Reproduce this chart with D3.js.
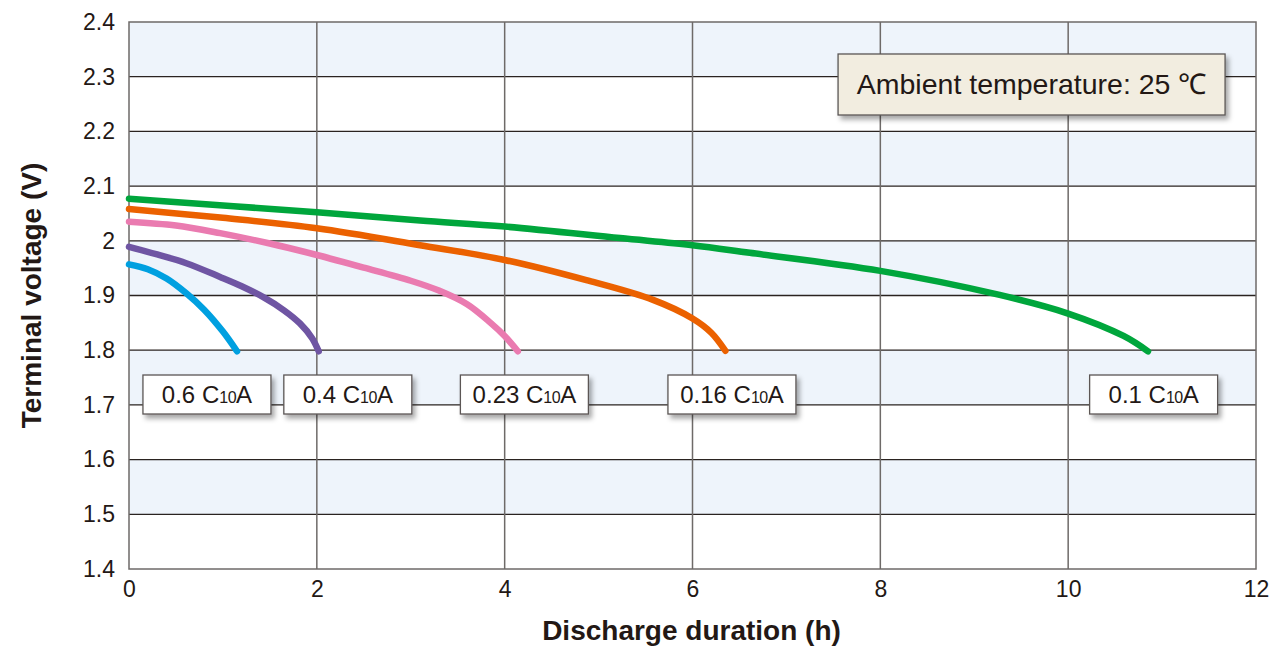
<!DOCTYPE html>
<html><head><meta charset="utf-8">
<script src="https://cdn.jsdelivr.net/npm/d3@7"></script>
<style>body{margin:0;background:#fff;} svg{display:block;font-family:"Liberation Sans",Arial,sans-serif;}</style>
</head><body>
<svg id="c" width="1271" height="648"></svg>
<script>
const xTicks = [0,2,4,6,8,10,12];
const yTicks = [1.4,1.5,1.6,1.7,1.8,1.9,2.0,2.1,2.2,2.3,2.4];
const yTickLabels = ["1.4","1.5","1.6","1.7","1.8","1.9","2","2.1","2.2","2.3","2.4"];
const seriesNames = ["0.6","0.4","0.23","0.16","0.1"];
const seriesColors = ["#00a0e0","#6f55a3","#ea7bb0","#eb6100","#00a63c"];
const s06 = [[0,1.957],[0.2,1.948],[0.4,1.931],[0.61,1.904],[0.8,1.874],[1.0,1.834],[1.15,1.798]];
const s04 = [[0,1.989],[0.3,1.975],[0.61,1.959],[0.97,1.934],[1.2,1.917],[1.43,1.897],[1.65,1.873],[1.82,1.849],[1.95,1.822],[2.02,1.798]];
const s023 = [[0,2.035],[0.5,2.028],[0.97,2.014],[1.5,1.995],[2.0,1.974],[2.5,1.951],[3.0,1.927],[3.3,1.909],[3.6,1.884],[3.85,1.850],[4.0,1.826],[4.14,1.798]];
const s016 = [[0,2.058],[1.0,2.042],[2.0,2.023],[3.1,1.992],[4.0,1.965],[4.87,1.928],[5.58,1.892],[6.0,1.858],[6.2,1.832],[6.35,1.799]];
const s01 = [[0,2.077],[2.0,2.052],[3.1,2.037],[4.0,2.026],[5.23,2.005],[6.0,1.992],[6.61,1.978],[8.0,1.945],[9.27,1.901],[10.0,1.867],[10.59,1.826],[10.85,1.798]];
const seriesData = [s06,s04,s023,s016,s01];
const labelPos = [[0.83,1.719],[2.33,1.719],[4.21,1.719],[6.42,1.719],[10.91,1.719]];
const bands = [[2.3,2.4],[2.1,2.2],[1.9,2.0],[1.7,1.8],[1.5,1.6]];
const note = "Ambient temperature: 25 \u2103";

const svg = d3.select("#c");
const x = d3.scaleLinear().domain([0,12]).range([129,1256]);
const y = d3.scaleLinear().domain([1.4,2.4]).range([569,22]);

const defs = svg.append("defs");
const f = defs.append("filter").attr("id","sh").attr("x","-20%").attr("y","-30%").attr("width","140%").attr("height","170%");
f.append("feDropShadow").attr("dx",3).attr("dy",4).attr("stdDeviation",2.5).attr("flood-color","#000").attr("flood-opacity",0.35);

// bands
svg.append("g").selectAll("rect").data(bands).join("rect")
  .attr("x",x(0)).attr("width",x(12)-x(0))
  .attr("y",d=>y(d[1])).attr("height",d=>y(d[0])-y(d[1]))
  .attr("fill","#eef4fb");

// horizontal grid
svg.append("g").selectAll("line").data(yTicks.slice(1,-1)).join("line")
  .attr("x1",x(0)).attr("x2",x(12)).attr("y1",d=>y(d)).attr("y2",d=>y(d))
  .attr("stroke","#2a2320").attr("stroke-width",1.3);
// vertical grid
svg.append("g").selectAll("line").data(xTicks.slice(1,-1)).join("line")
  .attr("y1",y(1.4)).attr("y2",y(2.4)).attr("x1",d=>x(d)).attr("x2",d=>x(d))
  .attr("stroke","#6e6a68").attr("stroke-width",1.5);
// frame
svg.append("rect").attr("x",x(0)).attr("y",y(2.4)).attr("width",x(12)-x(0)).attr("height",y(1.4)-y(2.4))
  .attr("fill","none").attr("stroke","#6e6a68").attr("stroke-width",1.5);

// axes labels
const yAxis = d3.axisLeft(y).tickValues(yTicks).tickSize(0).tickPadding(14).tickFormat((d,i)=>yTickLabels[i]);
const ga = svg.append("g").attr("transform",`translate(${x(0)},0)`).call(yAxis);
ga.select(".domain").remove();
ga.attr("font-size",null);
ga.selectAll("text").style("font-size","23px").attr("fill","#231815").style("font-family","Liberation Sans, Arial, sans-serif");
const xAxis = d3.axisBottom(x).tickValues(xTicks).tickSize(0).tickPadding(12).tickFormat(d3.format("d"));
const gx = svg.append("g").attr("transform",`translate(0,${y(1.4)})`).call(xAxis);
gx.select(".domain").remove();
gx.attr("font-size",null);
gx.selectAll("text").style("font-size","23px").attr("fill","#231815").style("font-family","Liberation Sans, Arial, sans-serif");

svg.append("text").attr("x",x(6)-1).attr("y",640).attr("text-anchor","middle")
  .style("font-size","28px").attr("font-weight","bold").attr("fill","#231815").text("Discharge duration (h)");
svg.append("text").attr("transform",`translate(41,${y(1.9)}) rotate(-90)`).attr("text-anchor","middle")
  .style("font-size","28px").attr("font-weight","bold").attr("fill","#231815").text("Terminal voltage (V)");

// curves
const line = d3.line().x(d=>x(d[0])).y(d=>y(d[1])).curve(d3.curveCatmullRom.alpha(0.5));
svg.append("g").selectAll("path").data(seriesData).join("path")
  .attr("d",line).attr("fill","none").attr("stroke",(d,i)=>seriesColors[i])
  .attr("stroke-width",6.5).attr("stroke-linecap","round").attr("stroke-linejoin","round");

// series labels
const lg = svg.append("g").selectAll("g").data(seriesNames).join("g")
  .attr("transform",(d,i)=>`translate(${x(labelPos[i][0])},${y(labelPos[i][1])})`);
lg.append("rect").attr("x",-64).attr("y",-19.5).attr("width",128).attr("height",39)
  .attr("fill","#fff").attr("stroke","#5b5655").attr("stroke-width",1.3).attr("filter","url(#sh)");
const lt = lg.append("text").attr("text-anchor","middle").attr("y",8.5).style("font-size","24px").attr("fill","#231815");
lt.append("tspan").text(d=>d+" C");
lt.append("tspan").style("font-size","16px").attr("letter-spacing",-0.5).text("10");
lt.append("tspan").text("A");

// note box
const ng = svg.append("g").attr("transform",`translate(${x(7.55)},${y(2.3415)})`);
ng.append("rect").attr("x",0).attr("y",0).attr("width",387).attr("height",61)
  .attr("fill","#f2ede0").attr("stroke","#5b5655").attr("stroke-width",1.3).attr("filter","url(#sh)");
ng.append("text").attr("x",193.5).attr("y",40.5).attr("text-anchor","middle").style("font-size","28.5px").attr("fill","#231815").text(note);
</script>
</body></html>
